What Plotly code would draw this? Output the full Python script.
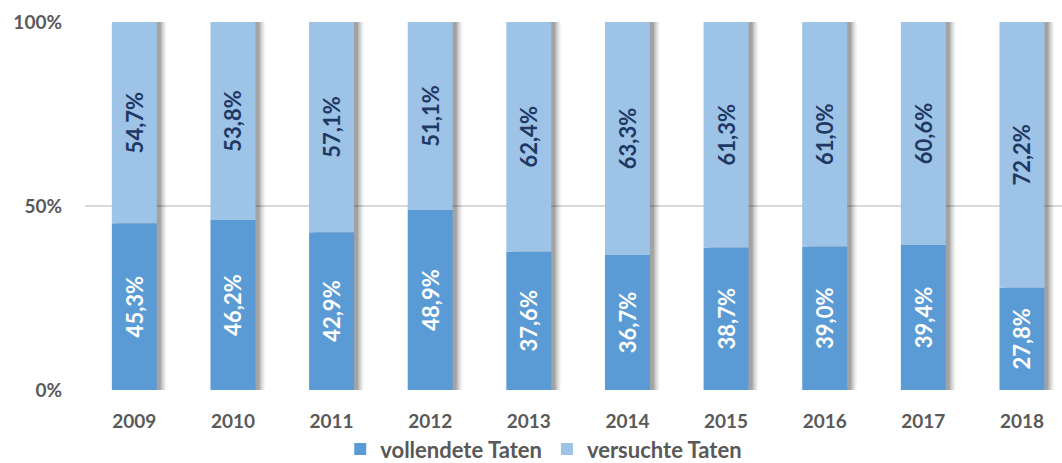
import plotly.graph_objects as go

years = ["2009", "2010", "2011", "2012", "2013", "2014", "2015", "2016", "2017", "2018"]
vollendete = [45.3, 46.2, 42.9, 48.9, 37.6, 36.7, 38.7, 39.0, 39.4, 27.8]
versuchte = [54.7, 53.8, 57.1, 51.1, 62.4, 63.3, 61.3, 61.0, 60.6, 72.2]
tick_vals = [0, 50, 100]
tick_text = ["0%", "50%", "100%"]

def fmt(v):
    return f"{v:.1f}%".replace(".", ",")

totals = [a + b for a, b in zip(vollendete, versuchte)]
W = 0.456
FONT = "Lato"

fig = go.Figure()

# soft shadow behind bars (right side)
for off, op in [(0.1, 0.04), (0.085, 0.06), (0.07, 0.08), (0.055, 0.11), (0.04, 0.13)]:
    fig.add_trace(go.Bar(
        x=years, y=totals, base=0, width=W, offset=-W / 2 + off,
        marker=dict(color=f"rgba(0,0,0,{op})", line=dict(width=0)),
        showlegend=False, hoverinfo="skip",
    ))

fig.add_trace(go.Bar(
    x=years, y=vollendete, base=0, width=W, offset=-W / 2,
    name="vollendete Taten",
    marker=dict(color="#5B9BD5", line=dict(width=0)),
    text=[fmt(v) for v in vollendete], textposition="inside",
    insidetextanchor="middle", textangle=-90,
    textfont=dict(family=FONT, size=22, color="white", weight="bold"),
))
fig.add_trace(go.Bar(
    x=years, y=versuchte, base=vollendete, width=W, offset=-W / 2,
    name="versuchte Taten",
    marker=dict(color="#9DC3E6", line=dict(width=0)),
    text=[fmt(v) for v in versuchte], textposition="inside",
    insidetextanchor="middle", textangle=-90,
    textfont=dict(family=FONT, size=22, color="#1F3864", weight="bold"),
))

fig.update_layout(
    width=1062, height=463,
    barmode="overlay",
    plot_bgcolor="white", paper_bgcolor="white",
    margin=dict(l=85, r=0, t=22, b=73, autoexpand=False),
    font=dict(family=FONT, color="#595959", size=19, weight="bold"),
    uniformtext=dict(mode="show", minsize=8),
    xaxis=dict(
        type="category", range=[-0.5, 9.406],
        showgrid=False, showline=False, ticks="",
        tickfont=dict(family=FONT, size=19, color="#595959", weight="bold"),
        ticklabelstandoff=18, automargin=False,
    ),
    yaxis=dict(
        range=[0, 100], tickvals=tick_vals, ticktext=tick_text,
        showgrid=True, gridcolor="#D9D9D9", gridwidth=2,
        zeroline=False, showline=False, ticks="",
        tickfont=dict(family=FONT, size=19, color="#595959", weight="bold"),
        ticklabelstandoff=22, automargin=False,
    ),
    legend=dict(
        orientation="h", xref="container", x=0.512, xanchor="center",
        yref="container", y=0.03, yanchor="middle",
        font=dict(family=FONT, size=22, color="#595959", weight="bold"),
        itemwidth=30, traceorder="normal",
    ),
)

fig.write_html("out.html", config={"displayModeBar": False},
               post_script="document.body.style.margin='0';")
